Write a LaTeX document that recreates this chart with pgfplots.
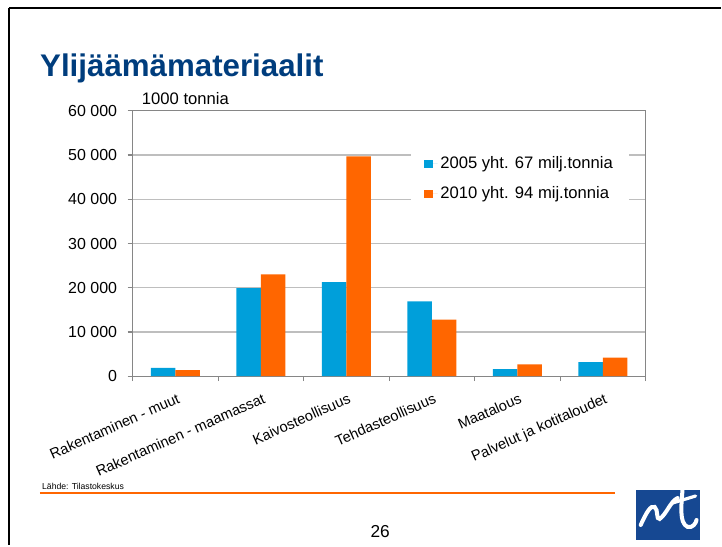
\documentclass[border=0pt]{standalone}
\usepackage{fontspec}
\setmainfont{Liberation Sans}
\usepackage{pgfplots}
\pgfplotsset{compat=1.18}

\definecolor{barblue}{RGB}{0,159,218}
\definecolor{barorange}{RGB}{255,102,0}
\definecolor{titleblue}{RGB}{0,61,125}
\definecolor{logoblue}{RGB}{22,72,146}
\definecolor{gridgray}{RGB}{190,190,190}
\definecolor{axisgray}{RGB}{134,134,134}

\begin{document}
\begin{tikzpicture}
  % slide area, 722 x 546 px (1 px = 0.75pt)
  \path (0,0) rectangle (541.5pt,409.5pt);

  \begin{axis}[
      at={(99.75pt,126.75pt)}, anchor=south west,
      scale only axis,
      width=385.5pt, height=199.5pt,
      ybar=0pt, bar width=18.4pt,
      xmin=-0.5, xmax=5.5,
      ymin=0, ymax=60000,
      scaled y ticks=false,
      axis line style={axisgray, line width=0.9pt},
      tick align=outside,
      xtick pos=bottom, ytick pos=left,
      major tick length=3.75pt,
      tick style={axisgray, line width=0.8pt},
      xtick={-0.5,0.5,...,5.5},
      xticklabels={},
      extra x ticks={0,1,2,3,4,5},
      extra x tick labels={Rakentaminen - muut, Rakentaminen - maamassat, Kaivosteollisuus, Tehdasteollisuus, Maatalous, Palvelut ja kotitaloudet},
      extra x tick style={grid=none, major tick length=0pt,
        tick label style={rotate=24, anchor=north east, font=\fontsize{11}{13}\selectfont, xshift=-1pt, yshift=-8pt}},
      ytick={0,10000,...,60000},
      yticklabels={0,10 000,20 000,30 000,40 000,50 000,60 000},
      yticklabel style={font=\fontsize{12}{14}\selectfont, xshift=-4.5pt},
      ymajorgrids,
      major grid style={gridgray, line width=0.9pt},
      legend style={at={(0.542,0.868)}, anchor=north west, draw=none, fill=white,
        font=\fontsize{12.5}{15}\selectfont, row sep=8pt, inner xsep=10pt, inner ysep=6pt},
      legend cell align=left,
      legend image code/.code={\fill[#1] (0pt,-3.5pt) rectangle (6.5pt,3pt);
        \path (0pt,0pt) -- (10pt,0pt);},
    ]
    \addplot[fill=barblue, draw=none] coordinates {
      (0,1900) (1,19900) (2,21300) (3,16900) (4,1600) (5,3200)};
    \addlegendentry{2005 yht. 67 milj.tonnia}
    \addplot[fill=barorange, draw=none] coordinates {
      (0,1400) (1,23000) (2,49700) (3,12800) (4,2700) (5,4200)};
    \addlegendentry{2010 yht. 94 mij.tonnia}
  \end{axis}

  \begin{scope}[x=0.75pt, y=-0.75pt, shift={(0pt,409.5pt)}]
    % slide frame
    \draw[black, line width=2.2pt] (9,8) -- (722,8);
    \draw[black, line width=2.2pt] (9,8) -- (9,546);
    % title
    \node[anchor=base west, inner sep=0pt, text=titleblue,
      font=\fontsize{23.5}{28}\selectfont\bfseries] at (40,77) {Ylijäämämateriaalit};
    \node[anchor=base west, inner sep=0pt, font=\fontsize{12.5}{15}\selectfont] at (142,105) {1000 tonnia};
    % footer
    \node[anchor=base west, inner sep=0pt, font=\fontsize{6.5}{8}\selectfont] at (42,490) {Lähde: Tilastokeskus};
    \draw[barorange, line width=1.6pt] (40,494) -- (616,494);
    \node[anchor=base, inner sep=0pt, font=\fontsize{13}{15}\selectfont] at (381,539) {26};
    % logo
    \fill[logoblue] (637,491) rectangle (701,541);
    \draw[white, line width=3pt, line cap=round]
      (642,526) .. controls (648,513) and (652,506) .. (656,508)
      .. controls (660,511) and (657,521) .. (661,520)
      .. controls (668,515) and (672,502) .. (679,499);
    \draw[white, line width=3pt, line cap=round]
      (684,489) .. controls (683,505) and (680,524) .. (689,528)
      .. controls (694,529) and (697,525) .. (698,521);
    \draw[white, line width=2.4pt, line cap=round] (674,504) -- (697,497);
  \end{scope}
\end{tikzpicture}
\end{document}
